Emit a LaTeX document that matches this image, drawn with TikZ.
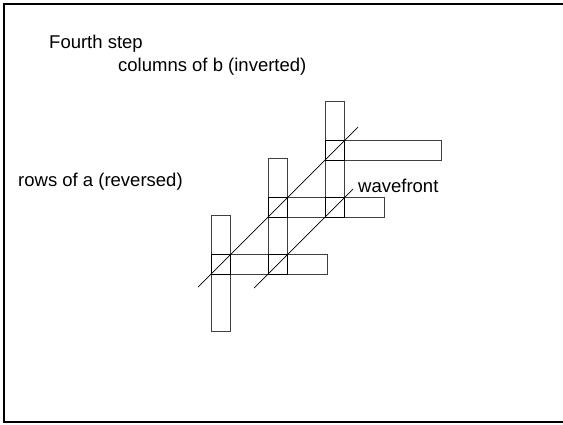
\documentclass[tikz,border=0pt]{standalone}
\usepackage{fontspec}
\setmainfont{Liberation Sans}
\usepackage{tikz}

\tikzset{
  label text/.style={anchor=base west, inner sep=0pt, font=\fontsize{18.5}{22}\selectfont},
  bar/.style={draw=black!75, line width=0.75pt},
  cell/.style={draw=black, line width=0.9pt}
}

\begin{document}
\begin{tikzpicture}[x=1pt, y=-1pt]
    \useasboundingbox (0,0) rectangle (563,424);
    \clip (0,0) rectangle (563,424);
    \draw[line width=2.6pt] (580,4) -- (4,4) -- (4,422) -- (580,422);

    \node[label text] (title) at (49,48) {Fourth step};
    \node[label text] (cols) at (118,71) {columns of b (inverted)};
    \node[label text] (rows) at (18,186) {rows of a (reversed)};
    \node[label text] (wave) at (358,192) {wavefront};

    \foreach \i in {0,1,2} {
        \draw[bar] (211+57*\i,215-57*\i) rectangle (230+57*\i,331-57*\i);
        \draw[bar] (211+57*\i,254-57*\i) rectangle (327+57*\i,274-57*\i);
    }
    \foreach \i/\j in {0/0, 1/0, 1/1, 2/1, 2/2}
        \draw[cell] (211+57*\i,254-57*\j) rectangle (230+57*\i,274-57*\j);

    \coordinate (front a1) at (198,287);
    \coordinate (front a2) at (358,127);
    \coordinate (front b1) at (254,288);
    \coordinate (front b2) at (353,189);
    \draw[line width=0.7pt] (front a1) -- (front a2);
    \draw[line width=0.7pt] (front b1) -- (front b2);
\end{tikzpicture}
\end{document}
